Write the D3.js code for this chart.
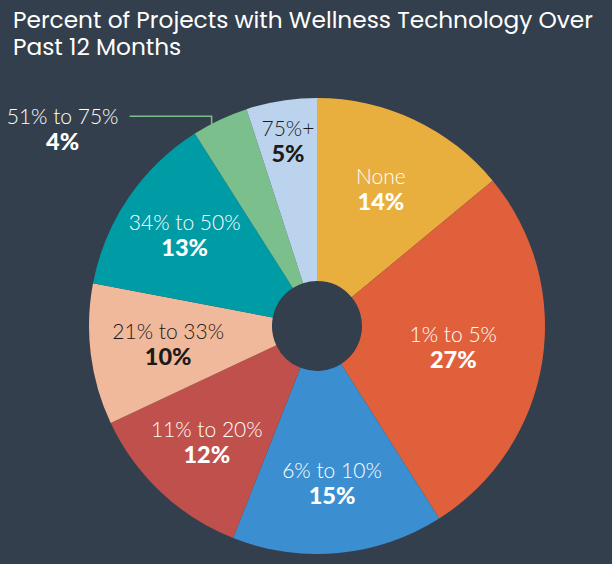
<!DOCTYPE html>
<html><head><meta charset="utf-8">
<script src="https://cdn.jsdelivr.net/npm/d3@7"></script>
<style>html,body{margin:0;padding:0;background:#333f4c;}</style>
</head><body>
<svg id="chart" width="612" height="564"></svg>
<script>
const categories = ["None","1% to 5%","6% to 10%","11% to 20%","21% to 33%","34% to 50%","51% to 75%","75%+"];
const values = [14,27,15,12,10,13,4,5];
const valueLabels = ["14%","27%","15%","12%","10%","13%","4%","5%"];
const colors = ["#e8ae3e","#e0603c","#3b8fd0","#c0504b","#f0b99b","#009ca6","#7bbf8d","#bcd3ee"];
const labelColors = ["#fff","#fff","#fff","#fff","#1e1a1a","#fff","#fff","#1e1a1a"];
const titleLines = ["Percent of Projects with Wellness Technology Over","Past 12 Months"];

const W = 612, H = 564;
const cx = 317, cy = 326, R = 228, r0 = 45;
const labelR = [150,138,159,161,150,160,0,186];

const svg = d3.select("#chart");
svg.append("rect").attr("width",W).attr("height",H).attr("fill","#333f4c");

const title = svg.append("g");
titleLines.forEach((t,i)=>{
  title.append("text").attr("x",13).attr("y",28+i*27)
    .attr("font-family","Poppins, 'Open Sans', sans-serif").attr("font-size",21)
    .attr("fill","#ffffff").text(t);
});
const first = title.select("text").node();
const w = first.getComputedTextLength();
const fs = 21*580/w;
title.selectAll("text").attr("font-size",fs);

const pie = d3.pie().sort(null).value(d=>d)(values);
const arc = d3.arc().innerRadius(r0).outerRadius(R);
const g = svg.append("g").attr("transform",`translate(${cx},${cy})`);
g.selectAll("path").data(pie).join("path")
  .attr("d",arc).attr("fill",(d,i)=>colors[i]);

pie.forEach((d,i)=>{
  let x,y;
  if (i===6) {
    const a = (d.startAngle+d.endAngle)/2 - 0.05;
    const p0 = [Math.sin(a)*(R-4), -Math.cos(a)*(R-4)];
    const elbowY = p0[1]-12;
    const endX = p0[0]-82;
    g.append("polyline")
      .attr("points",`${p0[0]},${p0[1]} ${p0[0]},${elbowY} ${endX},${elbowY}`)
      .attr("fill","none").attr("stroke",colors[i]).attr("stroke-width",1.5);
    x = endX-67; y = elbowY+14;
  } else {
    const la = d3.arc().innerRadius(labelR[i]).outerRadius(labelR[i]);
    [x,y] = la.centroid(d);
  }
  const t = g.append("text").attr("text-anchor","middle").attr("fill",labelColors[i])
    .attr("font-family","Lato, sans-serif");
  t.append("tspan").attr("x",x).attr("y",y-6).attr("font-size",21).attr("font-weight",300).text(categories[i]);
  t.append("tspan").attr("x",x).attr("y",y+20).attr("font-size",23.5).attr("font-weight",900).text(valueLabels[i]);
});
</script>
</body></html>
